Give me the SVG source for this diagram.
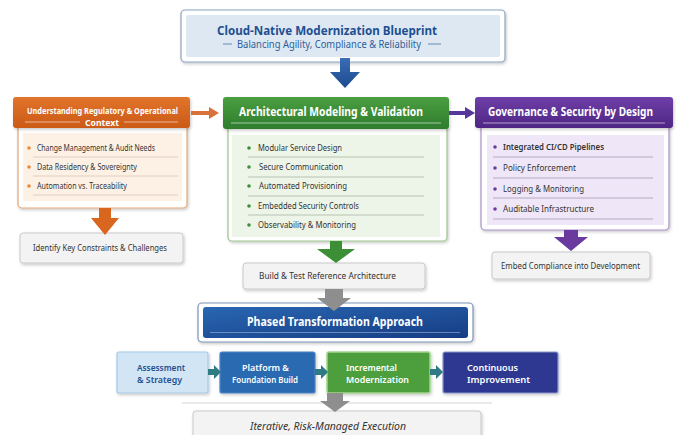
<svg xmlns="http://www.w3.org/2000/svg" width="678" height="435" viewBox="0 0 678 435">
  <defs>
    <filter id="sh" x="-10%" y="-20%" width="120%" height="150%">
      <feDropShadow dx="1" dy="1.5" stdDeviation="1.4" flood-color="#000" flood-opacity="0.22"/>
    </filter>
    <linearGradient id="gOrange" x1="0" y1="0" x2="0" y2="1">
      <stop offset="0" stop-color="#e2742c"/>
      <stop offset="1" stop-color="#cb5a16"/>
    </linearGradient>
    <linearGradient id="gGreen" x1="0" y1="0" x2="0" y2="1">
      <stop offset="0" stop-color="#4a9e40"/>
      <stop offset="1" stop-color="#2f7d2e"/>
    </linearGradient>
    <linearGradient id="gPurple" x1="0" y1="0" x2="0" y2="1">
      <stop offset="0" stop-color="#6f3fa8"/>
      <stop offset="1" stop-color="#4e2684"/>
    </linearGradient>
    <linearGradient id="gBlue" x1="0" y1="0" x2="1" y2="1">
      <stop offset="0" stop-color="#2966b2"/>
      <stop offset="1" stop-color="#163d84"/>
    </linearGradient>
    <linearGradient id="gArrowBlue" x1="0" y1="0" x2="0" y2="1">
      <stop offset="0" stop-color="#3a6db5"/>
      <stop offset="1" stop-color="#1c4a8f"/>
    </linearGradient>
  </defs>
  <style>
    text { font-family: "Noto Sans", "Open Sans", "Liberation Sans", sans-serif; }
    .hdr { fill: #ffffff; font-weight: 700; }
    .item { fill: #333333; font-size: 8.8px; }
    .sep { stroke-width: 0.8; fill: none; }
    .gbox { fill: #f3f3f3; stroke: #c9c9c9; stroke-width: 1; }
    .gtxt { fill: #333333; font-size: 9px; text-anchor: middle; }
    .wline { stroke: #ffffff; stroke-opacity: 0.7; stroke-width: 0.8; }
    .ptxt { font-size: 9.5px; font-weight: 600; }
  </style>

  <rect width="678" height="435" fill="#ffffff"/>

  <!-- title banner -->
  <g id="title">
    <rect x="181" y="10" width="324" height="52" rx="4" fill="#ffffff" stroke="#8aa3c2" stroke-width="1.2" filter="url(#sh)"/>
    <rect x="186" y="15" width="314" height="42" rx="2" fill="#dde8f3"/>
    <text x="327" y="34.5" font-size="13" font-weight="700" fill="#1d4f91" text-anchor="middle" textLength="220" lengthAdjust="spacingAndGlyphs">Cloud-Native Modernization Blueprint</text>
    <text x="329" y="48" font-size="10" fill="#2d5f9a" text-anchor="middle" textLength="184" lengthAdjust="spacingAndGlyphs">Balancing Agility, Compliance &amp; Reliability</text>
    <line x1="223" y1="44" x2="232" y2="44" stroke="#5f82ad" stroke-width="0.9"/>
    <line x1="428" y1="44" x2="441" y2="44" stroke="#5f82ad" stroke-width="0.9"/>
  </g>

  <!-- regulatory context -->
  <g id="context">
    <rect x="18" y="124" width="169" height="84" rx="4" fill="#ffffff" stroke="#e2a676" stroke-width="1.2" filter="url(#sh)"/>
    <rect x="23" y="133" width="159" height="68" fill="#fdf1e6"/>
    <rect x="13" y="97" width="177" height="31" rx="3" fill="url(#gOrange)" filter="url(#sh)"/>
    <text class="hdr" x="102.5" y="113.5" font-size="8.8" text-anchor="middle" textLength="151" lengthAdjust="spacingAndGlyphs">Understanding Regulatory &amp; Operational</text>
    <text class="hdr" x="102" y="125.5" font-size="8.8" text-anchor="middle" textLength="34" lengthAdjust="spacingAndGlyphs">Context</text>
    <line class="wline" x1="25" y1="122" x2="80" y2="122"/>
    <line class="wline" x1="124" y1="122" x2="178" y2="122"/>
    <g fill="#e8893b">
      <circle cx="29" cy="148" r="1.8"/>
      <circle cx="29" cy="167" r="1.8"/>
      <circle cx="29" cy="186" r="1.8"/>
    </g>
    <text class="item" x="37" y="151" textLength="118" lengthAdjust="spacingAndGlyphs">Change Management &amp; Audit Needs</text>
    <text class="item" x="37" y="170" textLength="100" lengthAdjust="spacingAndGlyphs">Data Residency &amp; Sovereignty</text>
    <text class="item" x="37" y="189" textLength="90" lengthAdjust="spacingAndGlyphs">Automation vs. Traceability</text>
    <g class="sep" stroke="#d9c6b4">
      <line x1="33" y1="157" x2="178" y2="157"/>
      <line x1="33" y1="176" x2="178" y2="176"/>
      <line x1="33" y1="195" x2="178" y2="195"/>
    </g>
  </g>

  <g id="constraints">
    <rect class="gbox" x="20" y="233" width="163" height="30" rx="3" filter="url(#sh)"/>
    <text class="gtxt" x="100" y="251" textLength="134" lengthAdjust="spacingAndGlyphs">Identify Key Constraints &amp; Challenges</text>
  </g>

  <!-- architectural modeling -->
  <g id="modeling">
    <rect x="228" y="125" width="219" height="116" rx="4" fill="#ffffff" stroke="#9cc48c" stroke-width="1.2" filter="url(#sh)"/>
    <rect x="232" y="135" width="208" height="102" fill="#edf5e8"/>
    <rect x="223" y="97" width="226" height="32" rx="3" fill="url(#gGreen)" filter="url(#sh)"/>
    <text class="hdr" x="331" y="116" font-size="12" text-anchor="middle" textLength="184" lengthAdjust="spacingAndGlyphs">Architectural Modeling &amp; Validation</text>
    <line class="wline" x1="231" y1="123" x2="441" y2="123"/>
    <g fill="#3e8e3a">
      <circle cx="249" cy="148" r="1.8"/>
      <circle cx="249" cy="167" r="1.8"/>
      <circle cx="249" cy="186" r="1.8"/>
      <circle cx="249" cy="206" r="1.8"/>
      <circle cx="249" cy="225" r="1.8"/>
    </g>
    <text class="item" x="258" y="151" textLength="84" lengthAdjust="spacingAndGlyphs">Modular Service Design</text>
    <text class="item" x="259" y="170" textLength="84" lengthAdjust="spacingAndGlyphs">Secure Communication</text>
    <text class="item" x="259" y="189" textLength="88" lengthAdjust="spacingAndGlyphs">Automated Provisioning</text>
    <text class="item" x="258" y="209" textLength="101" lengthAdjust="spacingAndGlyphs">Embedded Security Controls</text>
    <text class="item" x="258" y="228" textLength="98" lengthAdjust="spacingAndGlyphs">Observability &amp; Monitoring</text>
    <g class="sep" stroke="#a9b5a5">
      <line x1="248" y1="157" x2="424" y2="157"/>
      <line x1="248" y1="177" x2="424" y2="177"/>
      <line x1="248" y1="196" x2="424" y2="196"/>
      <line x1="248" y1="215" x2="424" y2="215"/>
    </g>
  </g>

  <g id="reference">
    <rect class="gbox" x="243" y="263" width="182" height="26" rx="3" filter="url(#sh)"/>
    <text class="gtxt" x="327.5" y="278.5" textLength="137" lengthAdjust="spacingAndGlyphs">Build &amp; Test Reference Architecture</text>
  </g>

  <!-- governance -->
  <g id="governance">
    <rect x="481" y="124" width="188" height="106" rx="4" fill="#ffffff" stroke="#a990c8" stroke-width="1.2" filter="url(#sh)"/>
    <rect x="487" y="135" width="177" height="90" fill="#efe7f7"/>
    <rect x="475" y="97" width="198" height="31" rx="3" fill="url(#gPurple)" filter="url(#sh)"/>
    <text class="hdr" x="570.5" y="116" font-size="11.5" font-weight="600" text-anchor="middle" textLength="165" lengthAdjust="spacingAndGlyphs">Governance &amp; Security by Design</text>
    <line class="wline" x1="483" y1="123" x2="665" y2="123"/>
    <g fill="#6a3d9a">
      <circle cx="495" cy="147" r="1.8"/>
      <circle cx="495" cy="168" r="1.8"/>
      <circle cx="495" cy="189" r="1.8"/>
      <circle cx="495" cy="209" r="1.8"/>
    </g>
    <text class="item" x="503" y="150" font-weight="600" textLength="101" lengthAdjust="spacingAndGlyphs">Integrated CI/CD Pipelines</text>
    <text class="item" x="503" y="171" textLength="73" lengthAdjust="spacingAndGlyphs">Policy Enforcement</text>
    <text class="item" x="503" y="192" textLength="81" lengthAdjust="spacingAndGlyphs">Logging &amp; Monitoring</text>
    <text class="item" x="503" y="212" textLength="91" lengthAdjust="spacingAndGlyphs">Auditable Infrastructure</text>
    <g class="sep" stroke="#a89bb6">
      <line x1="493" y1="157" x2="653" y2="157"/>
      <line x1="493" y1="178" x2="653" y2="178"/>
      <line x1="493" y1="198" x2="653" y2="198"/>
      <line x1="493" y1="219" x2="653" y2="219"/>
    </g>
  </g>

  <g id="compliance">
    <rect class="gbox" x="492" y="252" width="158" height="27" rx="3" filter="url(#sh)"/>
    <text class="gtxt" x="570.5" y="268.5" textLength="139" lengthAdjust="spacingAndGlyphs">Embed Compliance into Development</text>
  </g>

  <!-- phased approach banner -->
  <g id="phased">
    <rect x="198" y="303" width="275" height="39" rx="4" fill="#ffffff" stroke="#7a93b8" stroke-width="1.2" filter="url(#sh)"/>
    <rect x="203" y="307" width="265" height="31" rx="3" fill="url(#gBlue)"/>
    <text class="hdr" x="335" y="326" font-size="11.5" text-anchor="middle" textLength="176" lengthAdjust="spacingAndGlyphs">Phased Transformation Approach</text>
    <line x1="210" y1="332.5" x2="460" y2="332.5" stroke="#a9bfe0" stroke-opacity="0.7" stroke-width="0.8"/>
  </g>

  <!-- phases -->
  <g id="assessment">
    <rect x="117" y="352" width="91" height="41" rx="2" fill="#d1e5f5" stroke="#a6c9e6" stroke-width="1.2" filter="url(#sh)"/>
    <text class="ptxt" x="137" y="370.5" fill="#1f4f8e" textLength="48" lengthAdjust="spacingAndGlyphs">Assessment</text>
    <text class="ptxt" x="137" y="382.5" fill="#1f4f8e" textLength="45" lengthAdjust="spacingAndGlyphs">&amp; Strategy</text>
  </g>
  <g id="platform">
    <rect x="220" y="352" width="95" height="41" rx="2" fill="#2a6ab1" stroke="#4a84c4" stroke-width="1.2" filter="url(#sh)"/>
    <text class="ptxt" x="265.5" y="370.5" fill="#ffffff" text-anchor="middle" textLength="47" lengthAdjust="spacingAndGlyphs">Platform &amp;</text>
    <text class="ptxt" x="265" y="382.5" fill="#ffffff" text-anchor="middle" textLength="66" lengthAdjust="spacingAndGlyphs">Foundation Build</text>
  </g>
  <g id="incremental">
    <rect x="327" y="352" width="103" height="41" rx="2" fill="#4e9f3c" stroke="#a5d48f" stroke-width="1.5" filter="url(#sh)"/>
    <text class="ptxt" x="346" y="370.5" fill="#ffffff" textLength="51" lengthAdjust="spacingAndGlyphs">Incremental</text>
    <text class="ptxt" x="346" y="382.5" fill="#ffffff" textLength="63" lengthAdjust="spacingAndGlyphs">Modernization</text>
  </g>
  <g id="continuous">
    <rect x="443" y="352" width="115" height="41" rx="2" fill="#2d3990" stroke="#8b93c9" stroke-width="1.2" filter="url(#sh)"/>
    <text class="ptxt" x="467" y="370.5" fill="#ffffff" font-weight="500" textLength="51" lengthAdjust="spacingAndGlyphs">Continuous</text>
    <text class="ptxt" x="467" y="382.5" fill="#ffffff" font-weight="700" textLength="63" lengthAdjust="spacingAndGlyphs">Improvement</text>
  </g>

  <line x1="182" y1="403" x2="492" y2="403" stroke="#d5d5d5" stroke-width="1"/>

  <g id="execution">
    <rect class="gbox" x="193" y="411" width="288" height="32" rx="3" filter="url(#sh)"/>
    <text x="328" y="429.5" font-size="10" font-style="italic" fill="#333333" text-anchor="middle" textLength="156" lengthAdjust="spacingAndGlyphs">Iterative, Risk-Managed Execution</text>
  </g>

  <!-- connectors: block arrows -->
  <g id="connectors">
    <polygon points="340,58 350,58 350,72 360,72 345,88 330,72 340,72" fill="url(#gArrowBlue)"/>
    <polygon points="191,111 209,111 209,107 219,113 209,119 209,115 191,115" fill="#d9713a"/>
    <polygon points="449,111 465,111 465,107 475,113 465,119 465,115 449,115" fill="#55389a"/>
    <polygon points="99,208 111,208 111,218 119,218 105,235 91,218 99,218" fill="#d9661e"/>
    <polygon points="330,241 342,241 342,249 355,249 336,263 317,249 330,249" fill="#3d8f35"/>
    <polygon points="564,230 578,230 578,237 588,237 571,251 554,237 564,237" fill="#6a3a9f"/>
    <polygon points="325,289 343,289 343,298 351,298 334,311 317,298 325,298" fill="#8e8e8e"/>
    <polygon points="327,393 343,393 343,401 350,401 335,412 320,401 327,401" fill="#8e8e8e"/>
    <polygon points="208,369 214,369 214,365 221,372 214,379 214,375 208,375" fill="#2e7b86"/>
    <polygon points="315,369 321,369 321,365 328,372 321,379 321,375 315,375" fill="#2e7b86"/>
    <polygon points="430,369 436,369 436,365 443,372 436,379 436,375 430,375" fill="#2e7b86"/>
  </g>
</svg>
